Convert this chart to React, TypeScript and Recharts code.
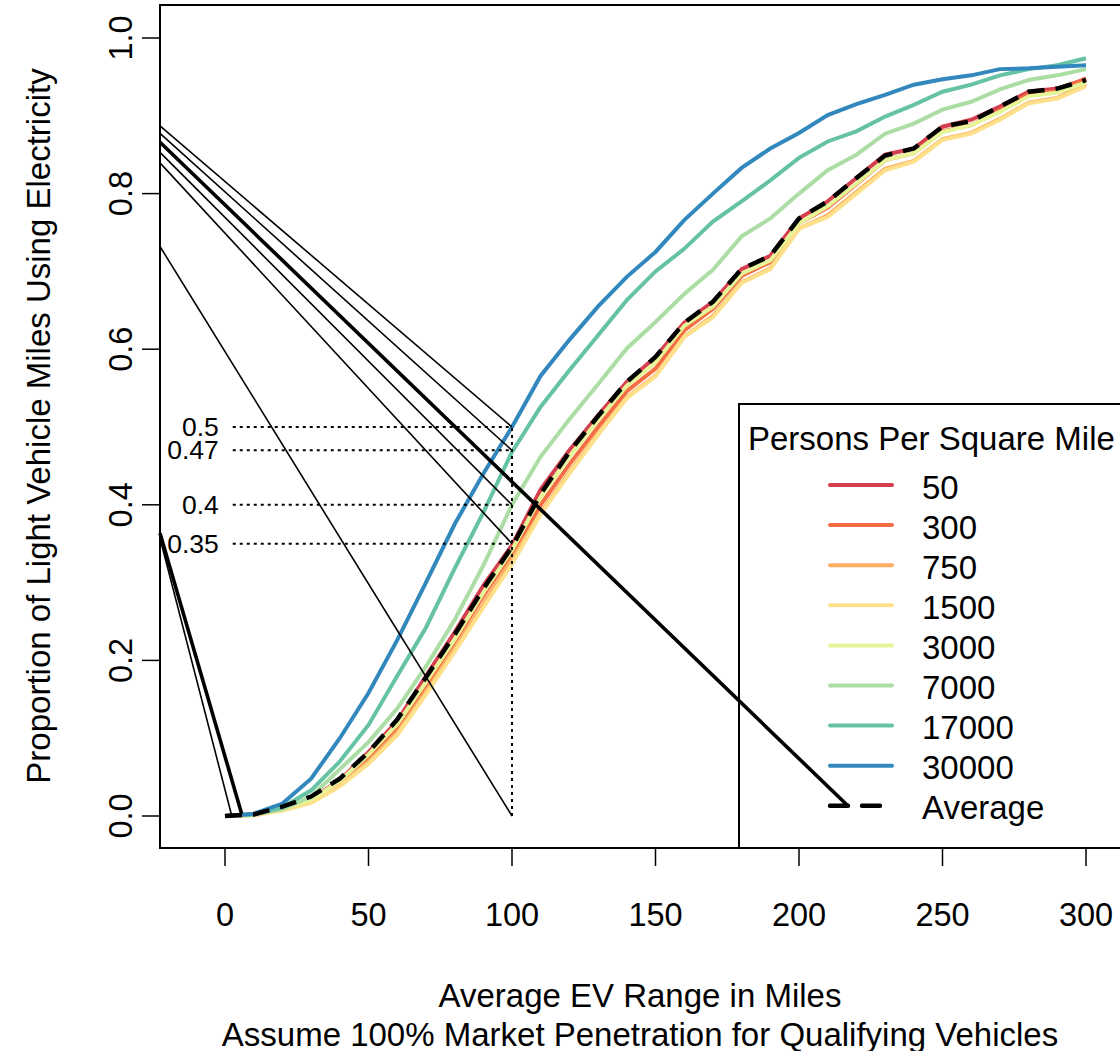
import React from 'react';
import { ComposedChart, Line, XAxis, YAxis, ReferenceLine, ReferenceArea, Legend } from 'recharts';

// ---------- data ----------
const rangeMiles = [0, 10, 20, 30, 40, 50, 60, 70, 80, 90, 100, 110, 120, 130, 140, 150, 160, 170, 180, 190, 200, 210, 220, 230, 240, 250, 260, 270, 280, 290, 300];

const density50 = [0, 0.002, 0.010, 0.022, 0.046, 0.082, 0.122, 0.180, 0.236, 0.296, 0.348, 0.420, 0.470, 0.515, 0.558, 0.590, 0.634, 0.661, 0.703, 0.720, 0.768, 0.790, 0.820, 0.850, 0.858, 0.886, 0.895, 0.912, 0.931, 0.935, 0.947];
const density300 = [0, 0.002, 0.009, 0.020, 0.043, 0.076, 0.114, 0.168, 0.224, 0.283, 0.338, 0.400, 0.452, 0.500, 0.546, 0.575, 0.624, 0.652, 0.694, 0.712, 0.762, 0.782, 0.812, 0.843, 0.852, 0.880, 0.888, 0.907, 0.928, 0.932, 0.948];
const density750 = [0, 0.001, 0.008, 0.018, 0.040, 0.070, 0.107, 0.160, 0.215, 0.272, 0.330, 0.390, 0.442, 0.492, 0.538, 0.566, 0.616, 0.643, 0.686, 0.704, 0.755, 0.772, 0.802, 0.832, 0.842, 0.870, 0.878, 0.896, 0.917, 0.923, 0.941];
const density1500 = [0, 0.001, 0.007, 0.017, 0.038, 0.067, 0.104, 0.156, 0.211, 0.268, 0.324, 0.388, 0.440, 0.490, 0.537, 0.565, 0.616, 0.641, 0.685, 0.703, 0.755, 0.770, 0.800, 0.830, 0.841, 0.869, 0.877, 0.895, 0.916, 0.922, 0.938];
const density3000 = [0, 0.002, 0.009, 0.021, 0.045, 0.079, 0.118, 0.172, 0.227, 0.287, 0.342, 0.410, 0.462, 0.509, 0.553, 0.583, 0.630, 0.655, 0.697, 0.714, 0.762, 0.784, 0.813, 0.843, 0.852, 0.879, 0.888, 0.905, 0.925, 0.930, 0.943];
const density7000 = [0, 0.002, 0.009, 0.025, 0.060, 0.095, 0.138, 0.192, 0.252, 0.322, 0.400, 0.462, 0.510, 0.555, 0.601, 0.635, 0.671, 0.702, 0.745, 0.768, 0.800, 0.830, 0.850, 0.877, 0.890, 0.908, 0.918, 0.934, 0.946, 0.952, 0.960];
const density17000 = [0, 0.002, 0.011, 0.033, 0.070, 0.117, 0.180, 0.242, 0.318, 0.390, 0.468, 0.526, 0.573, 0.618, 0.663, 0.700, 0.729, 0.764, 0.790, 0.817, 0.846, 0.867, 0.880, 0.899, 0.914, 0.931, 0.940, 0.952, 0.960, 0.965, 0.974];
const density30000 = [0, 0.003, 0.016, 0.048, 0.100, 0.158, 0.226, 0.300, 0.375, 0.440, 0.500, 0.566, 0.612, 0.655, 0.693, 0.725, 0.766, 0.800, 0.833, 0.858, 0.878, 0.901, 0.915, 0.927, 0.940, 0.947, 0.952, 0.960, 0.961, 0.963, 0.965];
const averageAll = [0, 0.002, 0.012, 0.025, 0.048, 0.082, 0.124, 0.178, 0.233, 0.292, 0.346, 0.414, 0.468, 0.514, 0.558, 0.590, 0.634, 0.661, 0.703, 0.720, 0.768, 0.790, 0.820, 0.849, 0.858, 0.886, 0.893, 0.912, 0.931, 0.935, 0.946];

const seriesNames = ['50', '300', '750', '1500', '3000', '7000', '17000', '30000'];
const seriesValues = [density50, density300, density750, density1500, density3000, density7000, density17000, density30000];
const seriesColors = ['#D53E4F', '#F46D43', '#FDAE61', '#FEE08B', '#E6F598', '#ABDDA4', '#66C2A5', '#3288BD'];
const averageName = 'Average';

const xTicks = [0, 50, 100, 150, 200, 250, 300];
const yTicks = [0, 0.2, 0.4, 0.6, 0.8, 1.0];

// marked readings at 100 miles
const markedRange = 100;
const markedLevels = [0.5, 0.47, 0.4, 0.35];
const markedLabels = ['0.5', '0.47', '0.4', '0.35'];
const guideStart = 2.7;

// stray pointer segments present in the original figure (data coordinates)
const pointerStartX = [-22.65, -22.65, -22.65, -22.65, -22.65, -22.65, -22.65, -22.65];
const pointerStartY = [0.887, 0.8775, 0.866, 0.853, 0.8395, 0.732, 0.3635, 0.357];
const pointerEndX = [100, 100, 217.1, 100, 100, 100, 5.8, 2.3];
const pointerEndY = [0.5, 0.47, 0.0129, 0.4, 0.35, 0, 0.003, 0.001];
const pointerHeavy = [false, false, true, false, false, false, true, false];

// ---------- layout ----------
const FONT = '"Liberation Sans", Arial, Helvetica, sans-serif';
const XMIN = -22.648;
const XMAX = 315.33;
const YMIN = -0.04113;
const YMAX = 1.04242;

const rows = rangeMiles.map((x, i) => {
  const r: any = { x, avg: averageAll[i] };
  seriesValues.forEach((vals, k) => { r['s' + k] = vals[i]; });
  return r;
});

const XTick = (props: any) => {
  const { x, payload } = props;
  return (
    <text x={x} y={915} textAnchor="middle" dominantBaseline="central" fontSize={32.5} fontFamily={FONT} fill="#000">
      {payload.value}
    </text>
  );
};

const YTick = (props: any) => {
  const { y, payload } = props;
  return (
    <text transform={`translate(121,${y}) rotate(-90)`} textAnchor="middle" dominantBaseline="central" fontSize={32.5} fontFamily={FONT} fill="#000">
      {Number(payload.value).toFixed(1)}
    </text>
  );
};

const markLabel = (text: string) => (props: any) => {
  const vb = props.viewBox || {};
  return (
    <text x={vb.x - 14} y={vb.y} textAnchor="end" dominantBaseline="central" fontSize={26.5} fontFamily={FONT} fill="#000">
      {text}
    </text>
  );
};

const LegendBox = () => {
  const items = seriesNames.map((n, i) => ({ label: n, color: seriesColors[i], dashed: false }));
  items.push({ label: averageName, color: '#000', dashed: true });
  return (
    <svg width={420} height={446} style={{ display: 'block', overflow: 'visible' }}>
      <rect x={1} y={1} width={430} height={444} fill="none" stroke="#000" strokeWidth={2} />
      <text x={10} y={35} dominantBaseline="central" fontSize={33} fontFamily={FONT} fill="#000">Persons Per Square Mile</text>
      {items.map((it, i) => {
        const yy = 82 + 40.1 * i;
        return (
          <g key={it.label}>
            <line x1={92} x2={154} y1={yy} y2={yy} stroke={it.color} strokeWidth={it.dashed ? 4.5 : 4} strokeLinecap="round" strokeDasharray={it.dashed ? '18 14' : undefined} />
            <text x={184} y={yy + 2} dominantBaseline="central" fontSize={33} fontFamily={FONT} fill="#000">{it.label}</text>
          </g>
        );
      })}
    </svg>
  );
};

export default function App() {
  return (
    <div style={{ position: 'absolute', left: 0, top: 0, width: 1120, height: 1051, overflow: 'hidden', background: '#fff' }}>
      <ComposedChart width={1140} height={1051} data={rows} margin={{ top: 5, right: 10, bottom: 0, left: 0 }}>
        <XAxis type="number" dataKey="x" domain={[XMIN, XMAX]} allowDataOverflow ticks={xTicks} interval={0}
          axisLine={false} tickLine={{ stroke: '#000', strokeWidth: 1.5 }} tickSize={18} height={203} tick={<XTick />} />
        <YAxis type="number" domain={[YMIN, YMAX]} allowDataOverflow ticks={yTicks} interval={0}
          axisLine={false} tickLine={{ stroke: '#000', strokeWidth: 1.5 }} tickSize={18} width={160} tick={<YTick />} />
        <ReferenceArea x1={XMIN} x2={XMAX} y1={YMIN} y2={YMAX} fill="none" fillOpacity={0} stroke="#000" strokeWidth={2} ifOverflow="visible" />
        {seriesNames.map((n, k) => (
          <Line key={n} type="linear" dataKey={'s' + k} name={n} stroke={seriesColors[k]} strokeWidth={4}
            dot={false} activeDot={false} isAnimationActive={false} />
        ))}
        <Line type="linear" dataKey="avg" name={averageName} stroke="#000" strokeWidth={4.5} strokeDasharray="17 11"
          dot={false} activeDot={false} isAnimationActive={false} />
        {markedLevels.map((lv, i) => (
          <ReferenceLine key={'h' + i} segment={[{ x: guideStart, y: lv }, { x: markedRange, y: lv }]}
            stroke="#000" strokeWidth={2} strokeDasharray="3 4" ifOverflow="visible" label={markLabel(markedLabels[i])} />
        ))}
        <ReferenceLine segment={[{ x: markedRange, y: 0 }, { x: markedRange, y: markedLevels[0] }]}
          stroke="#000" strokeWidth={2} strokeDasharray="3 4" ifOverflow="visible" />
        {pointerStartX.map((sx, i) => (
          <ReferenceLine key={'p' + i} segment={[{ x: sx, y: pointerStartY[i] }, { x: pointerEndX[i], y: pointerEndY[i] }]}
            stroke="#000" strokeWidth={pointerHeavy[i] ? 3.6 : 1.6} ifOverflow="visible" />
        ))}
        <Legend layout="horizontal" verticalAlign="middle" align="center" content={() => <LegendBox />}
          wrapperStyle={{ left: 738, top: 403, width: 420, height: 446 }} />
        <text x={38} y={426} transform="rotate(-90 38 426)" textAnchor="middle" dominantBaseline="central" fontSize={33} fontFamily={FONT} fill="#000">
          Proportion of Light Vehicle Miles Using Electricity
        </text>
        <text x={640} y={995} textAnchor="middle" dominantBaseline="central" fontSize={33} fontFamily={FONT} fill="#000">
          Average EV Range in Miles
        </text>
        <text x={640} y={1034} textAnchor="middle" dominantBaseline="central" fontSize={33} fontFamily={FONT} fill="#000">
          Assume 100% Market Penetration for Qualifying Vehicles
        </text>
      </ComposedChart>
    </div>
  );
}
